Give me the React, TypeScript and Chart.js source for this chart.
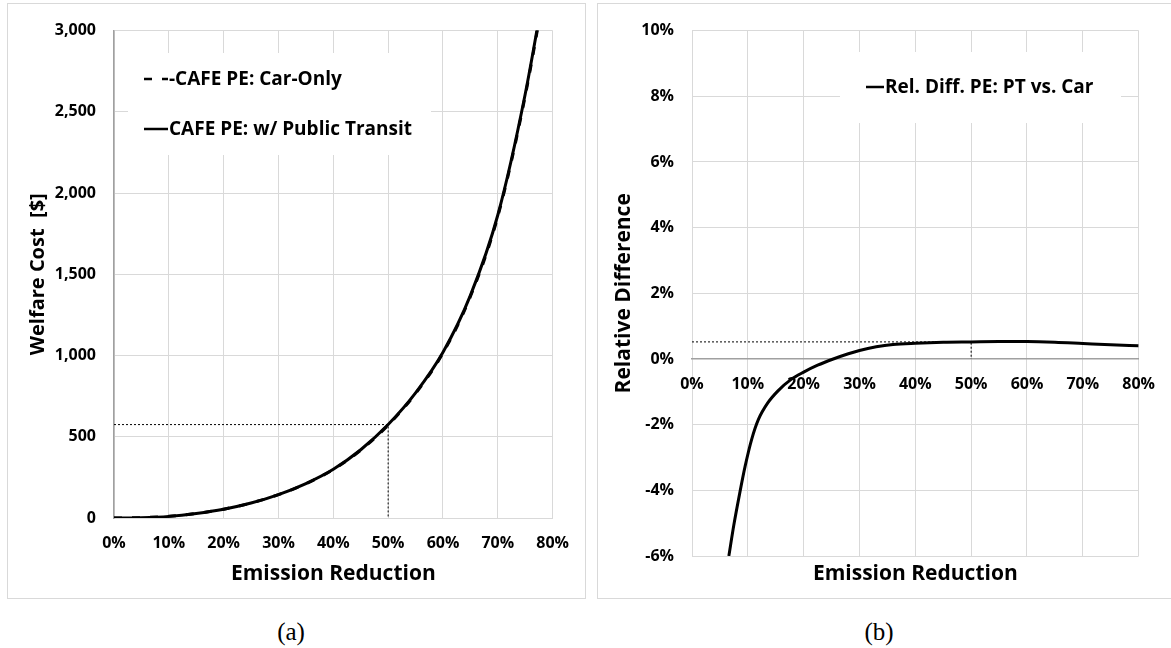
import React, { useEffect, useRef } from 'react';
import { Chart, registerables } from 'chart.js';

Chart.register(...registerables);

// ---------- data ----------
// Panel (a): welfare cost [$] vs. emission reduction [%]
const reductionA = [0, 5, 10, 15, 20, 25, 30, 35, 40, 45, 50, 55, 60, 65, 70, 75, 80];
const costTransit = [0, 2, 10, 28, 54, 92, 144, 212, 300, 420, 575, 770, 1020, 1370, 1865, 2610, 3560];
const costCarOnly = [0, 2.1, 10.3, 28.3, 54.3, 92.1, 143.6, 211.1, 298.6, 417.9, 572, 766, 1015, 1363, 1856, 2598, 3546];

// Panel (b): relative difference [%] vs. emission reduction [%]
const reductionB = [6.6, 7.5, 8.5, 9.5, 10.7, 11.9, 13.6, 15.4, 17.7, 20, 22.5, 25.3, 28, 30, 33, 36, 40, 45, 50, 55, 60, 65, 70, 75, 80];
const relDiff = [-6.0, -5.05, -4.13, -3.28, -2.44, -1.84, -1.33, -0.97, -0.63, -0.4, -0.19, 0, 0.16, 0.26, 0.37, 0.44, 0.48, 0.51, 0.52, 0.53, 0.53, 0.51, 0.47, 0.43, 0.4];

// Reference marker at 50 % reduction
const markerReduction = 50;
const markerCost = 575;
const markerRel = 0.52;

// Tick values
const reductionTicks = [0, 10, 20, 30, 40, 50, 60, 70, 80];
const costTicks = [0, 500, 1000, 1500, 2000, 2500, 3000];
const relTicks = [-6, -4, -2, 0, 2, 4, 6, 8, 10];

// ---------- helpers ----------
const FONT = '"Open Sans", "Noto Sans", "DejaVu Sans", sans-serif';
const GRID = '#d9d9d9';
const AXIS = '#a0a0a0';

const toPoints = (xs: number[], ys: number[]) => xs.map((x, i) => ({ x, y: ys[i] }));
const setTicks = (values: number[]) => (scale: any) => {
  scale.ticks = values.map((v) => ({ value: v }));
};

const boxLegend = {
  id: 'boxLegend',
  beforeDatasetsDraw(chart: any, _args: any, opts: any) {
    if (!opts || !opts.items) return;
    const ctx = chart.ctx;
    ctx.save();
    ctx.fillStyle = '#ffffff';
    ctx.fillRect(opts.box.x, opts.box.y, opts.box.w, opts.box.h);
    ctx.font = `bold ${opts.fontSize}px ${FONT}`;
    ctx.textBaseline = 'middle';
    ctx.textAlign = 'left';
    opts.items.forEach((it: any) => {
      const ds = chart.data.datasets[it.datasetIndex];
      ctx.beginPath();
      ctx.setLineDash(it.dash || []);
      ctx.lineWidth = it.lineWidth;
      ctx.strokeStyle = ds.borderColor;
      ctx.moveTo(it.x, it.y);
      ctx.lineTo(it.x + it.len, it.y);
      ctx.stroke();
      ctx.setLineDash([]);
      ctx.fillStyle = '#000000';
      ctx.fillText(ds.label, it.x + it.len + 1, it.y + 1);
    });
    ctx.restore();
  },
};

const tickFont = { family: FONT, size: 16, weight: 'bold' as const };
const titleFont = { family: FONT, size: 21, weight: 'bold' as const };
const yTitleFontA = { family: FONT, size: 20, weight: 'bold' as const };

function makeChartA(canvas: HTMLCanvasElement) {
  return new Chart(canvas, {
    type: 'line',
    data: {
      datasets: [
        {
          label: 'CAFE PE: w/ Public Transit',
          data: toPoints(reductionA, costTransit),
          borderColor: '#000000',
          borderWidth: 3,
          pointRadius: 0,
          cubicInterpolationMode: 'monotone',
          fill: false,
        },
        {
          label: '-CAFE PE: Car-Only',
          data: toPoints(reductionA, costCarOnly),
          borderColor: '#000000',
          borderWidth: 3,
          borderDash: [8, 10],
          pointRadius: 0,
          cubicInterpolationMode: 'monotone',
          fill: false,
        },
        {
          label: 'marker',
          data: [
            { x: reductionTicks[0], y: markerCost },
            { x: markerReduction, y: markerCost },
            { x: markerReduction, y: costTicks[0] },
          ],
          borderColor: '#000000',
          borderWidth: 1,
          borderDash: [2, 2],
          pointRadius: 0,
          tension: 0,
          fill: false,
        },
      ],
    },
    options: {
      responsive: false,
      animation: false,
      events: [],
      layout: { padding: { left: 0, top: 15, right: 26, bottom: 0 } },
      plugins: {
        legend: { display: false },
        tooltip: { enabled: false },
        boxLegend: {
          box: { x: 121, y: 50, w: 303, h: 102 },
          fontSize: 19,
          items: [
            { datasetIndex: 1, x: 137, y: 76, len: 24, lineWidth: 2.5, dash: [8, 10] },
            { datasetIndex: 0, x: 137, y: 126, len: 24, lineWidth: 2.5 },
          ],
        },
      } as any,
      scales: {
        x: {
          type: 'linear',
          min: 0,
          max: 80,
          afterBuildTicks: setTicks(reductionTicks),
          afterFit: (s: any) => {
            s.height = 80;
          },
          grid: { color: GRID, drawTicks: false },
          border: { color: GRID, width: 1 },
          ticks: { padding: 16, color: '#000', font: tickFont, callback: (v: any) => `${v}%` },
          title: {
            display: true,
            text: 'Emission Reduction',
            color: '#000',
            font: titleFont,
            padding: { top: 0, bottom: 11 },
          },
        },
        y: {
          type: 'linear',
          min: 0,
          max: 3000,
          afterBuildTicks: setTicks(costTicks),
          afterFit: (s: any) => {
            s.width = 107;
          },
          grid: { color: GRID, drawTicks: false },
          border: { color: AXIS, width: 1.5 },
          ticks: {
            padding: 18,
            color: '#000',
            font: tickFont,
            callback: (v: any) => Number(v).toLocaleString('en-US'),
          },
          title: {
            display: true,
            text: 'Welfare Cost  [$]',
            color: '#000',
            font: yTitleFontA,
            padding: { top: 19, bottom: 0 },
          },
        },
      },
    },
    plugins: [boxLegend as any],
  } as any);
}

function makeChartB(canvas: HTMLCanvasElement) {
  return new Chart(canvas, {
    type: 'line',
    data: {
      datasets: [
        {
          label: 'Rel. Diff. PE: PT vs. Car',
          data: toPoints(reductionB, relDiff),
          borderColor: '#000000',
          borderWidth: 3,
          pointRadius: 0,
          cubicInterpolationMode: 'monotone',
          fill: false,
        },
        {
          label: 'marker',
          data: [
            { x: reductionTicks[0], y: markerRel },
            { x: markerReduction, y: markerRel },
            { x: markerReduction, y: 0 },
          ],
          borderColor: '#000000',
          borderWidth: 1,
          borderDash: [2, 2],
          pointRadius: 0,
          tension: 0,
          fill: false,
        },
      ],
    },
    options: {
      responsive: false,
      animation: false,
      events: [],
      layout: { padding: { left: 0, top: 15, right: 22, bottom: 0 } },
      plugins: {
        legend: { display: false },
        tooltip: { enabled: false },
        boxLegend: {
          box: { x: 243, y: 49, w: 281, h: 71 },
          fontSize: 19,
          items: [{ datasetIndex: 0, x: 269, y: 84, len: 18, lineWidth: 2.5 }],
        },
      } as any,
      scales: {
        x: {
          type: 'linear',
          position: { y: 0 },
          min: 0,
          max: 80,
          afterBuildTicks: setTicks(reductionTicks),
          grid: { color: GRID, drawTicks: false },
          border: { color: AXIS, width: 1.5 },
          ticks: { padding: 16, color: '#000', font: tickFont, callback: (v: any) => `${v}%` },
          title: { display: false },
        },
        x2: {
          type: 'linear',
          axis: 'x',
          position: 'bottom',
          min: 0,
          max: 80,
          afterFit: (s: any) => {
            s.height = 42;
          },
          grid: { display: false },
          border: { display: false },
          ticks: { display: false },
          title: {
            display: true,
            text: 'Emission Reduction',
            color: '#000',
            font: titleFont,
            padding: { top: 0, bottom: 11 },
          },
        },
        y: {
          type: 'linear',
          min: -6,
          max: 10,
          afterBuildTicks: setTicks(relTicks),
          afterFit: (s: any) => {
            s.width = 95;
          },
          grid: { color: GRID, drawTicks: false },
          border: { display: false },
          ticks: { padding: 18, color: '#000', font: tickFont, callback: (v: any) => `${v}%` },
          title: {
            display: true,
            text: 'Relative Difference',
            color: '#000',
            font: titleFont,
            padding: { top: 14, bottom: 0 },
          },
        },
      },
    },
    plugins: [boxLegend as any],
  } as any);
}

export default function App() {
  const refA = useRef<HTMLCanvasElement | null>(null);
  const refB = useRef<HTMLCanvasElement | null>(null);

  useEffect(() => {
    let a: Chart | null = null;
    let b: Chart | null = null;
    let cancelled = false;
    const build = () => {
      if (cancelled) return;
      if (refA.current) a = makeChartA(refA.current);
      if (refB.current) b = makeChartB(refB.current);
    };
    const fontsApi: any = (document as any).fonts;
    if (fontsApi && fontsApi.load) {
      Promise.all([fontsApi.load('bold 16px "Open Sans"'), fontsApi.load('bold 20px "Open Sans"')])
        .catch(() => null)
        .then(build);
    } else {
      build();
    }
    return () => {
      cancelled = true;
      if (a) a.destroy();
      if (b) b.destroy();
    };
  }, []);

  const frame = (left: number, width: number): React.CSSProperties => ({
    position: 'absolute',
    left,
    top: 3,
    width,
    height: 596,
    border: '1px solid #d9d9d9',
    boxSizing: 'border-box',
  });
  const caption = (cx: number): React.CSSProperties => ({
    position: 'absolute',
    left: cx - 40,
    width: 80,
    top: 617,
    lineHeight: '30px',
    textAlign: 'center',
    fontFamily: '"Liberation Serif", "DejaVu Serif", serif',
    fontSize: 25,
    color: '#000',
  });

  return (
    <div
      style={{
        position: 'fixed',
        left: 0,
        top: 0,
        width: 1171,
        height: 648,
        overflow: 'hidden',
        background: '#ffffff',
      }}
    >
      <div style={frame(7, 579)} />
      <div style={frame(597, 580)} />
      <canvas
        ref={refA}
        width={578}
        height={595}
        style={{ position: 'absolute', left: 7, top: 3, width: 578, height: 595 }}
      />
      <canvas
        ref={refB}
        width={574}
        height={595}
        style={{ position: 'absolute', left: 597, top: 3, width: 574, height: 595 }}
      />
      <div style={caption(291)}>(a)</div>
      <div style={caption(879)}>(b)</div>
    </div>
  );
}
